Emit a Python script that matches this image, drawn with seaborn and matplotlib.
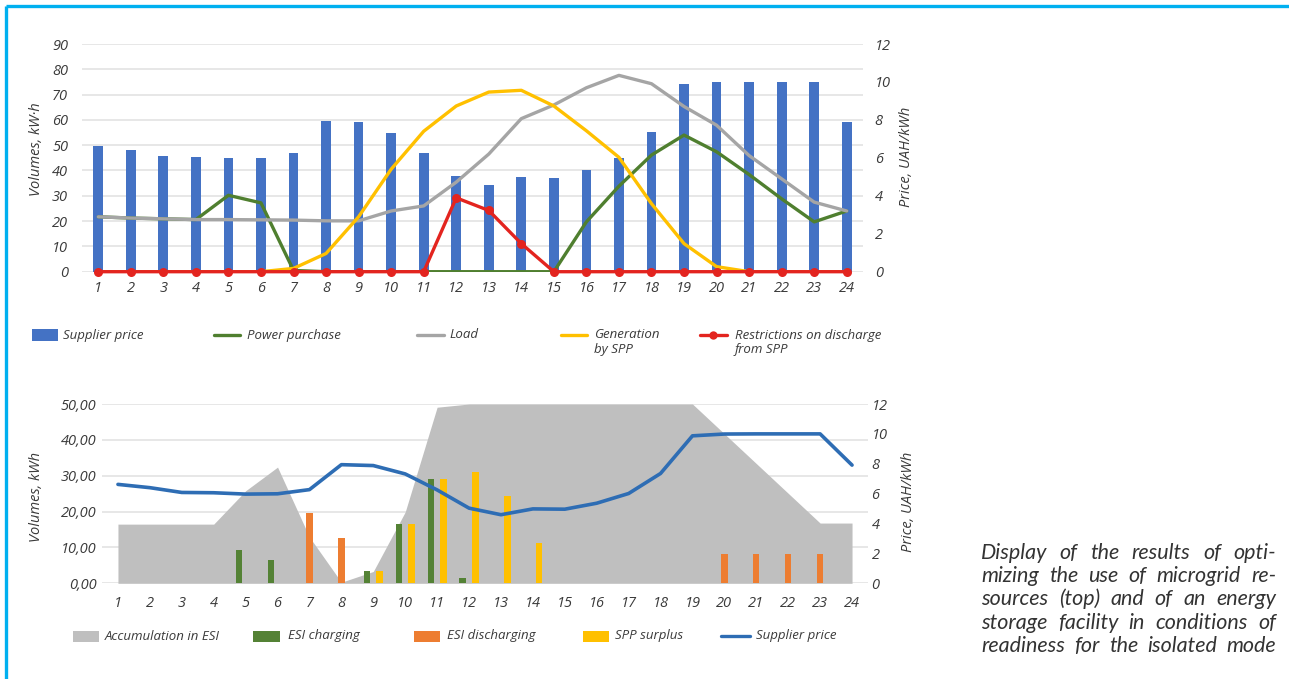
import numpy as np
import pandas as pd
import matplotlib
matplotlib.use("Agg")
import matplotlib.pyplot as plt
from matplotlib.lines import Line2D
from matplotlib.patches import Rectangle
import seaborn as sns

# ---------------- data ----------------
hours = list(range(1, 25))

# Upper panel: microgrid resources
supplier_price = [6.62, 6.40, 6.08, 6.06, 5.97, 5.99, 6.27, 7.94, 7.88, 7.32, 6.25, 5.03,
                  4.59, 4.98, 4.96, 5.36, 6.01, 7.35, 9.87, 9.99, 10.0, 10.0, 10.0, 7.91]
power_purchase = [21.7, 21.2, 20.9, 20.6, 30.2, 27.2, 0.5, 0, 0, 0, 0, 0,
                  0, 0, 0, 19.7, 33.8, 46.1, 54.0, 47.4, 38.4, 28.8, 19.7, 24.0]
load = [21.7, 21.2, 20.9, 20.6, 20.6, 20.5, 20.4, 20.1, 20.1, 24.0, 26.0, 35.4,
        46.5, 60.5, 65.9, 72.7, 77.6, 74.3, 65.3, 57.9, 45.9, 36.7, 27.5, 24.0]
generation_spp = [0, 0, 0, 0, 0, 0, 1.3, 7.2, 21.7, 40.5, 55.5, 65.5,
                  71.0, 71.7, 65.5, 55.7, 45.2, 26.9, 11.1, 2.0, 0, 0, 0, 0]
discharge_limit = [0, 0, 0, 0, 0, 0, 0, 0, 0, 0, 0, 29.2,
                   24.2, 11.1, 0, 0, 0, 0, 0, 0, 0, 0, 0, 0]

# Lower panel: energy storage installation (ESI)
esi_accumulation = [16.5, 16.5, 16.5, 16.5, 25.8, 32.4, 12.9, 0.3, 3.3, 19.9, 49.1, 50.0,
                    50.0, 50.0, 50.0, 50.0, 50.0, 50.0, 50.0, 41.7, 33.4, 25.1, 16.8, 16.8]
esi_charging = [0, 0, 0, 0, 9.3, 6.6, 0, 0, 3.3, 16.6, 29.2, 1.4,
                0, 0, 0, 0, 0, 0, 0, 0, 0, 0, 0, 0]
esi_discharging = [0, 0, 0, 0, 0, 0, 19.5, 12.6, 0, 0, 0, 0,
                   0, 0, 0, 0, 0, 0, 0, 8.2, 8.2, 8.2, 8.2, 0]
spp_surplus = [0, 0, 0, 0, 0, 0, 0, 0, 3.3, 16.6, 29.2, 30.9,
               24.4, 11.3, 0, 0, 0, 0, 0, 0, 0, 0, 0, 0]

vol_ticks_top = [0, 10, 20, 30, 40, 50, 60, 70, 80, 90]
vol_ticks_bottom = [0, 10, 20, 30, 40, 50]
vol_labels_bottom = ["0,00", "10,00", "20,00", "30,00", "40,00", "50,00"]
price_ticks = [0, 2, 4, 6, 8, 10, 12]

caption_lines = [
    "Display of the results of opti-",
    "mizing the use of microgrid re-",
    "sources (top) and of an energy",
    "storage facility in conditions of",
    "readiness for the isolated mode",
]

# ---------------- style ----------------
BAR_BLUE = "#4472C4"
GREEN = "#4F7F2F"
LOAD_GRAY = "#A5A5A5"
YELLOW = "#FFC000"
RED = "#E3241F"
AREA_GRAY = "#BFBFBF"
CHARGE_GREEN = "#548235"
ORANGE = "#ED7D31"
PRICE_BLUE = "#2E6DB4"
GRID = "#E3E3E3"
TEXT = "#3A3A3A"
CYAN = "#00B0F0"

sns.set_style("white")
plt.rcParams["font.family"] = ["Open Sans", "DejaVu Sans"]
plt.rcParams["font.style"] = "italic"

W, H = 1289, 679
fig = plt.figure(figsize=(W / 100, H / 100), dpi=100)

TICK_SIZE = 10.5


def fx(px):
    return px / W


def fy(py):
    return 1 - py / H


def axes_rect(left, top, right, bottom):
    return [fx(left), fy(bottom), (right - left) / W, (bottom - top) / H]


# ---------------- upper panel ----------------
ax_p = fig.add_axes(axes_rect(82, 44, 863, 271.7))
ax_v = ax_p.twinx()
ax_p.yaxis.tick_right()
ax_v.yaxis.tick_left()

price_max = price_ticks[-1]
vol_max_top = vol_ticks_top[-1]
for v in vol_ticks_top:
    ax_p.axhline(v * price_max / vol_max_top, color=GRID, lw=1.2, zorder=0)

sns.barplot(x=hours, y=supplier_price, native_scale=True, width=0.3, color=BAR_BLUE,
            saturation=1, errorbar=None, linewidth=0, ax=ax_p)

line_kw = dict(linewidth=2.4, ax=ax_v)
sns.lineplot(x=hours, y=power_purchase, color=GREEN, **line_kw)
sns.lineplot(x=hours, y=load, color=LOAD_GRAY, **line_kw)
sns.lineplot(x=hours, y=generation_spp, color=YELLOW, **line_kw)
sns.lineplot(x=hours, y=discharge_limit, color=RED, marker="o", markersize=6.5,
             markeredgewidth=0, clip_on=False, **line_kw)

ax_p.set_ylim(0, price_max)
ax_v.set_ylim(0, vol_max_top)
ax_p.set_xlim(0.5, 24.5)
ax_p.set_xticks(hours)
ax_p.set_xticklabels([str(h) for h in hours])
ax_p.set_yticks(price_ticks)
ax_v.set_yticks(vol_ticks_top)

ax_p.tick_params(axis="x", length=0, pad=7, labelsize=TICK_SIZE, labelcolor=TEXT)
ax_p.tick_params(axis="y", length=0, pad=8.5, labelsize=TICK_SIZE, labelcolor=TEXT)
ax_v.tick_params(axis="y", length=0, pad=10, labelsize=TICK_SIZE, labelcolor=TEXT)

# ---------------- lower panel ----------------
ax_b = fig.add_axes(axes_rect(102, 404, 868, 583.3))
ax_b2 = ax_b.twinx()
ax_b.yaxis.tick_left()
ax_b2.yaxis.tick_right()

series_names = ["ESI charging", "ESI discharging", "SPP surplus"]
bars_df = pd.DataFrame({
    "hour": hours * 3,
    "series": np.repeat(series_names, len(hours)),
    "value": esi_charging + esi_discharging + spp_surplus,
})

ax_b.set_axisbelow(True)
ax_b.yaxis.grid(True, color=GRID, lw=1.2)
ax_b.xaxis.grid(False)

positions = np.arange(len(hours))
ax_b.fill_between(positions, esi_accumulation, color=AREA_GRAY, lw=0, zorder=0.8)

sns.barplot(data=bars_df, x="hour", y="value", hue="series", hue_order=series_names,
            palette=[CHARGE_GREEN, ORANGE, YELLOW], width=0.6, saturation=1,
            errorbar=None, linewidth=0, legend=False, ax=ax_b)

sns.lineplot(x=positions, y=supplier_price, color=PRICE_BLUE, linewidth=2.6, ax=ax_b2)

ax_b.set_ylim(0, vol_ticks_bottom[-1])
ax_b2.set_ylim(0, price_max)
ax_b.set_xlim(-0.5, len(hours) - 0.5)
ax_b.set_yticks(vol_ticks_bottom)
ax_b.set_yticklabels(vol_labels_bottom)
ax_b2.set_yticks(price_ticks)

ax_b.tick_params(axis="x", length=0, pad=9, labelsize=TICK_SIZE, labelcolor=TEXT)
ax_b.tick_params(axis="y", length=0, pad=4, labelsize=TICK_SIZE, labelcolor=TEXT)
ax_b2.tick_params(axis="y", length=0, pad=2.5, labelsize=TICK_SIZE, labelcolor=TEXT)

for a in (ax_p, ax_v, ax_b, ax_b2):
    a.set_xlabel("")
    a.set_ylabel("")
    for s in a.spines.values():
        s.set_visible(False)
    a.set_facecolor("none")

# ---------------- axis titles ----------------
lab_kw = dict(rotation=90, ha="center", va="center", fontsize=10.5, color=TEXT)
fig.text(fx(36), fy(149), "Volumes, kW·h", **lab_kw)
fig.text(fx(906), fy(157), "Price, UAH/kWh", **lab_kw)
fig.text(fx(37), fy(497), "Volumes, kWh", **lab_kw)
fig.text(fx(908), fy(502), "Price, UAH/kWh", **lab_kw)

# ---------------- legends ----------------
leg_font = dict(family=["Liberation Sans Narrow", "Open Sans", "DejaVu Sans"],
                fontsize=9.5, color=TEXT, va="center", ha="left")


def key_patch(x0, x1, yc, color, h=11):
    fig.add_artist(Rectangle((fx(x0), fy(yc + h / 2)), (x1 - x0) / W, h / H,
                             transform=fig.transFigure, color=color, lw=0))


def key_line(x0, x1, yc, color, marker=None):
    fig.add_artist(Line2D([fx(x0), fx(x1)], [fy(yc), fy(yc)], transform=fig.transFigure,
                          color=color, lw=2.4))
    if marker:
        fig.add_artist(Line2D([fx((x0 + x1) / 2)], [fy(yc)], transform=fig.transFigure,
                              color=color, marker=marker, markersize=6, markeredgewidth=0))


y1 = 335
key_patch(32, 58, y1, BAR_BLUE)
fig.text(fx(63), fy(y1), "Supplier price", **leg_font)
key_line(214, 240, y1, GREEN)
fig.text(fx(247), fy(y1), "Power purchase", **leg_font)
key_line(417, 444, y1, LOAD_GRAY)
fig.text(fx(449), fy(y1), "Load", **leg_font)
key_line(561, 587, y1, YELLOW)
fig.text(fx(594), fy(y1), "Generation", **leg_font)
fig.text(fx(594), fy(y1 + 15), "by SPP", **leg_font)
key_line(700, 727, y1, RED, marker="o")
fig.text(fx(735), fy(y1), "Restrictions on discharge", **leg_font)
fig.text(fx(735), fy(y1 + 15), "from SPP", **leg_font)

y2 = 636
key_patch(73, 99, y2, AREA_GRAY)
fig.text(fx(105), fy(y2), "Accumulation in ESI", **leg_font)
key_patch(253, 280, y2, CHARGE_GREEN)
fig.text(fx(288), fy(y2), "ESI charging", **leg_font)
key_patch(414, 440, y2, ORANGE)
fig.text(fx(447), fy(y2), "ESI discharging", **leg_font)
key_patch(583, 609, y2, YELLOW)
fig.text(fx(615), fy(y2), "SPP surplus", **leg_font)
key_line(721, 750, y2, PRICE_BLUE)
fig.text(fx(756), fy(y2), "Supplier price", **leg_font)

# ---------------- frame ----------------
fig.add_artist(Line2D([fx(6), fx(6)], [0, fy(6)], transform=fig.transFigure,
                      color=CYAN, lw=2.4, solid_capstyle="butt"))
fig.add_artist(Line2D([fx(6), 1], [fy(6), fy(6)], transform=fig.transFigure,
                      color=CYAN, lw=2.4, solid_capstyle="butt"))

# ---------------- justified caption ----------------
renderer = fig.canvas.get_renderer()
cap_left, cap_right = 981, 1276
cap_size = 15.5
cap_kw = dict(family=["Lato", "Open Sans", "DejaVu Sans"], style="italic", color="#333333",
              va="baseline", ha="left")


def word_widths(words, size):
    out = []
    for w in words:
        t = fig.text(0, 0, w, fontsize=size, **cap_kw)
        out.append(t.get_window_extent(renderer).width)
        t.remove()
    return out


# shrink the caption font until every line fits with readable spacing
while True:
    ok = True
    for line in caption_lines:
        words = line.split()
        widths = word_widths(words, cap_size)
        if sum(widths) + 3.0 * (len(words) - 1) > cap_right - cap_left:
            ok = False
            break
    if ok:
        break
    cap_size -= 0.25

for i, line in enumerate(caption_lines):
    words = line.split()
    widths = word_widths(words, cap_size)
    gap = (cap_right - cap_left - sum(widths)) / (len(words) - 1)
    x = cap_left
    yb = 559 + i * 23.2
    for w, wd in zip(words, widths):
        fig.text(fx(x), fy(yb), w, fontsize=cap_size, **cap_kw)
        x += wd + gap

fig.savefig("out.png", dpi=100, facecolor="white")
